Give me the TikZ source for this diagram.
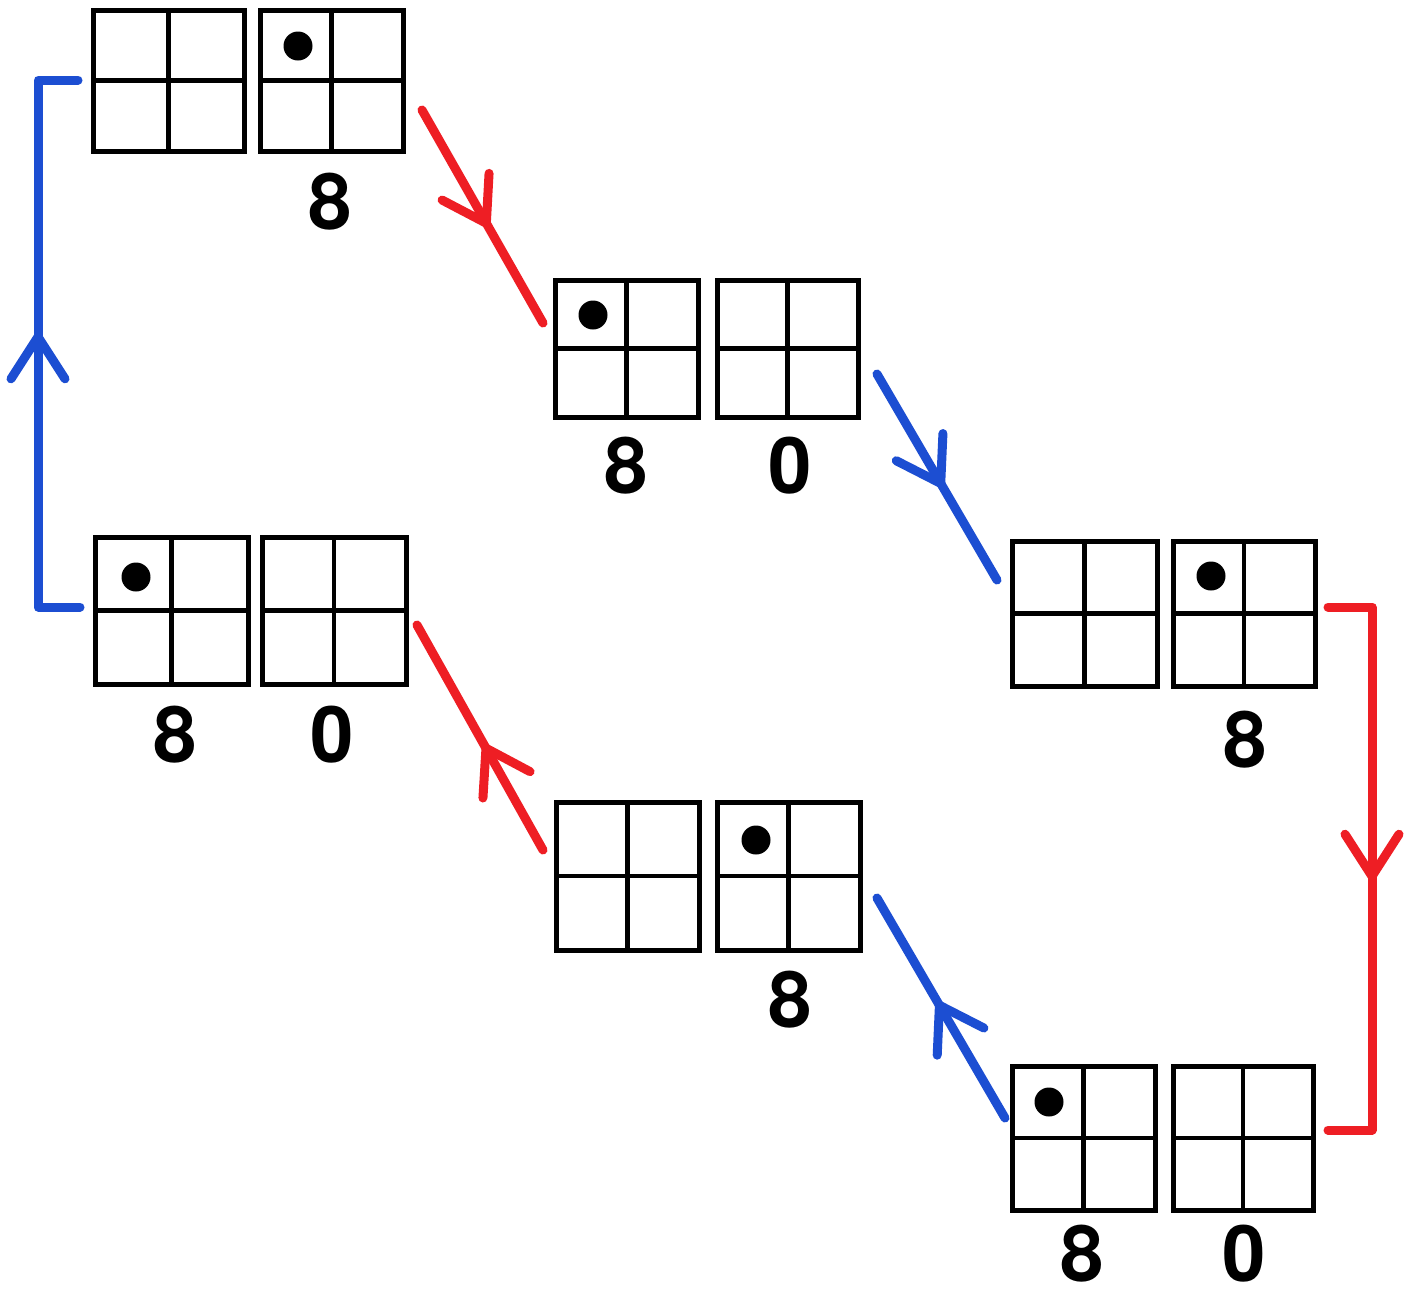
\documentclass[tikz,border=0pt]{standalone}
\usepackage{fontspec}
\newfontfamily\digitfont{TeX Gyre Heros}
\usetikzlibrary{arrows.meta,decorations.markings}
\definecolor{cred}{RGB}{238,30,36}
\definecolor{cblue}{RGB}{28,78,210}
\tikzset{
  gbox/.style={draw=black, line width=2.5pt, fill=white, inner sep=0pt, outer sep=0pt,
    path picture={\draw[line width=2.4pt] (path picture bounding box.north) -- (path picture bounding box.south)
      (path picture bounding box.west) -- (path picture bounding box.east);}},
  dotmark/.style={circle, fill=black, inner sep=0pt, minimum size=14.5pt},
  lbl/.style={inner sep=0pt, font=\digitfont\bfseries\fontsize{39}{39}\selectfont},
  conn/.style={line width=4.5pt, line cap=round, line join=round},
  midarrow/.style={postaction={decorate, decoration={markings,
    mark=at position #1 with {\arrow{Straight Barb[round, length=21pt, width=27pt]}}}}}
}
\newcommand\gridbox[5]{%
  \node[gbox, minimum width={(#4-#2)*0.5pt}, minimum height={(#5-#3)*0.5pt}] (#1) at ({(#2+#4)/2},{(#3+#5)/2}) {};}
\begin{document}
\begin{tikzpicture}[x=0.5pt,y=-0.5pt]
\useasboundingbox[fill=white] (0,0) rectangle (1415,1298);
% boxes
\gridbox{a1}{93}{10}{244}{151}
\gridbox{a2}{260}{10}{403}{151}
\gridbox{b1}{555}{280}{698}{417}
\gridbox{b2}{717}{280}{858}{417}
\gridbox{c1}{1012}{541}{1157}{686}
\gridbox{c2}{1173}{541}{1315}{686}
\gridbox{d1}{1012}{1066}{1155}{1210}
\gridbox{d2}{1173}{1066}{1313}{1210}
\gridbox{e1}{556}{802}{699}{950}
\gridbox{e2}{717}{802}{860}{950}
\gridbox{f1}{95}{537}{248}{684}
\gridbox{f2}{262}{537}{406}{684}
% dots
\node[dotmark] (a2d) at (298,46) {};
\node[dotmark] (b1d) at (593,315) {};
\node[dotmark] (c2d) at (1211,576) {};
\node[dotmark] (d1d) at (1049,1102) {};
\node[dotmark] (e2d) at (756,840) {};
\node[dotmark] (f1d) at (136,577) {};
% labels
\node[lbl] (a2l) at (330,202) {8};
\node[lbl] (b1l) at (626,466) {8};
\node[lbl] (b2l) at (790,466) {0};
\node[lbl] (c2l) at (1245,740) {8};
\node[lbl] (d1l) at (1082,1254) {8};
\node[lbl] (d2l) at (1244,1254) {0};
\node[lbl] (e2l) at (790,1000) {8};
\node[lbl] (f1l) at (175,735) {8};
\node[lbl] (f2l) at (332,735) {0};
% connector end points
\coordinate (r1s) at (422,110);
\coordinate (r1e) at (543,323);
\coordinate (b2s) at (877,374);
\coordinate (b2e) at (997,580);
\coordinate (r3s) at (1328,607);
\coordinate (r3a) at (1372,607);
\coordinate (r3b) at (1372,1130);
\coordinate (r3e) at (1328,1130);
\coordinate (b4s) at (1005,1118);
\coordinate (b4e) at (877,898);
\coordinate (r5s) at (543,850);
\coordinate (r5e) at (417,625);
\coordinate (b6s) at (80,607);
\coordinate (b6a) at (38,607);
\coordinate (b6b) at (38,80);
\coordinate (b6e) at (78,80);
% connectors
\draw[conn, cred, midarrow=0.55] (r1s) -- (r1e);
\draw[conn, cblue, midarrow=0.55] (b2s) -- (b2e);
\draw[conn, cred, midarrow=0.52] (r3s) -- (r3a) -- (r3b) -- (r3e);
\draw[conn, cblue, midarrow=0.53] (b4s) -- (b4e);
\draw[conn, cred, midarrow=0.47] (r5s) -- (r5e);
\draw[conn, cblue, midarrow=0.52] (b6s) -- (b6a) -- (b6b) -- (b6e);
\end{tikzpicture}
\end{document}
